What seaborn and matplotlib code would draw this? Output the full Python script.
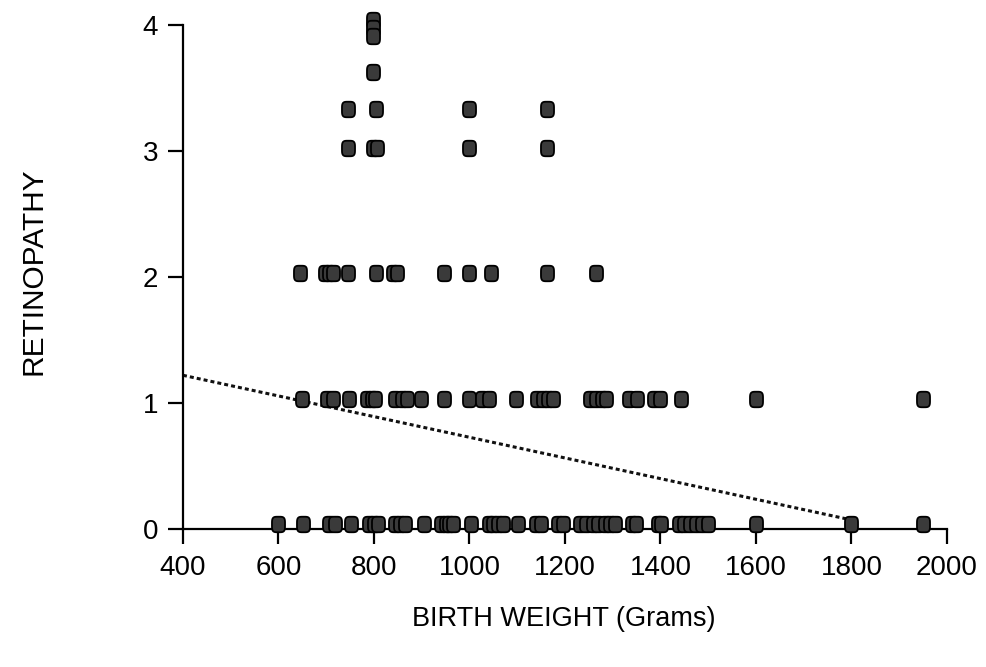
import numpy as np
import pandas as pd
import matplotlib
matplotlib.use("Agg")
import matplotlib.pyplot as plt
from matplotlib.path import Path
import seaborn as sns

# Birth weight (grams) of each infant, grouped by retinopathy score row
weight_row0 = [600, 651, 705, 718, 752, 790, 800, 808, 845, 855, 866, 905,
               940, 950, 958, 966, 1004, 1040, 1050, 1060, 1070, 1102, 1140,
               1150, 1185, 1195, 1232, 1245, 1258, 1270, 1283, 1295, 1305,
               1340, 1348, 1395, 1402, 1438, 1450, 1462, 1475, 1488, 1500,
               1600, 1800, 1950]
weight_row1 = [650, 702, 715, 748, 786, 795, 803, 845, 858, 870, 898, 947,
               1000, 1027, 1040, 1098, 1142, 1153, 1165, 1176, 1253, 1265,
               1277, 1287, 1335, 1350, 1387, 1400, 1442, 1600, 1950]
weight_row2 = [645, 698, 706, 714, 746, 805, 840, 848, 947, 1000, 1046,
               1163, 1264]
weight_row3 = [745, 798, 806, 1000, 1162]
weight_row33 = [745, 805, 1000, 1162]
weight_top = [797, 797, 797, 797]

# Retinopathy score of each row
score_row0 = 0.04
score_row1 = 1.03
score_row2 = 2.03
score_row3 = 3.02
score_row33 = 3.33
score_top = [4.04, 3.98, 3.91, 3.63]

# Fitted trend line (weight, score) end points
fit_weight = [400, 1790]
fit_score = [1.22, 0.08]

x_ticks = [400, 600, 800, 1000, 1200, 1400, 1600, 1800, 2000]
y_ticks = [0, 1, 2, 3, 4]

weights = (weight_row0 + weight_row1 + weight_row2 + weight_row3
           + weight_row33 + weight_top)
scores = ([score_row0] * len(weight_row0) + [score_row1] * len(weight_row1)
          + [score_row2] * len(weight_row2) + [score_row3] * len(weight_row3)
          + [score_row33] * len(weight_row33) + score_top)
df = pd.DataFrame({"weight": weights, "score": scores})
fit_df = pd.DataFrame({"weight": fit_weight, "score": fit_score})

sns.set_style("ticks")
plt.rcParams["font.family"] = ["Liberation Sans", "DejaVu Sans"]

# Rounded-rectangle marker (superellipse), a bit taller than wide
t = np.linspace(0, 2 * np.pi, 64, endpoint=False)
c, s = np.cos(t), np.sin(t)
vx = 0.42 * np.sign(c) * np.abs(c) ** 0.5
vy = 0.50 * np.sign(s) * np.abs(s) ** 0.5
verts = np.column_stack([vx, vy])
rounded = Path(np.vstack([verts, verts[:1]]), closed=True)

fig = plt.figure(figsize=(9.87, 6.67), dpi=100)
ax = fig.add_axes([0.1854, 0.2069, 0.774, 0.7556])

sns.lineplot(data=fit_df, x="weight", y="score", ax=ax, color="#111111",
             linewidth=2.2, linestyle=(0, (1.3, 1.0)), zorder=2)
sns.scatterplot(data=df, x="weight", y="score", ax=ax, marker=rounded,
                s=125, color="#3a3a3a", edgecolor="#000000", linewidth=1.3,
                zorder=3, clip_on=False, legend=False)

ax.set_xlim(400, 2000)
ax.set_ylim(0, 4)
ax.set_xticks(x_ticks)
ax.set_yticks(y_ticks)
ax.set_xticklabels([str(v) for v in x_ticks])
ax.set_yticklabels([str(v) for v in y_ticks])

for side in ("top", "right"):
    ax.spines[side].set_visible(False)
for side in ("left", "bottom"):
    ax.spines[side].set_linewidth(1.6)
    ax.spines[side].set_color("black")

ax.tick_params(axis="y", length=11, width=1.6, pad=7, labelsize=20,
               color="black", labelcolor="black")
ax.tick_params(axis="x", length=11, width=1.6, pad=8, labelsize=20,
               color="black", labelcolor="black")

ax.set_xlabel("BIRTH WEIGHT (Grams)", fontsize=19.5, color="black")
ax.xaxis.set_label_coords(0.4987, -0.152)
ax.set_ylabel("RETINOPATHY", fontsize=21.5, color="black", va="center")
ax.yaxis.set_label_coords(-0.196, 0.512)

fig.savefig("out.png", dpi=100, facecolor="white")
